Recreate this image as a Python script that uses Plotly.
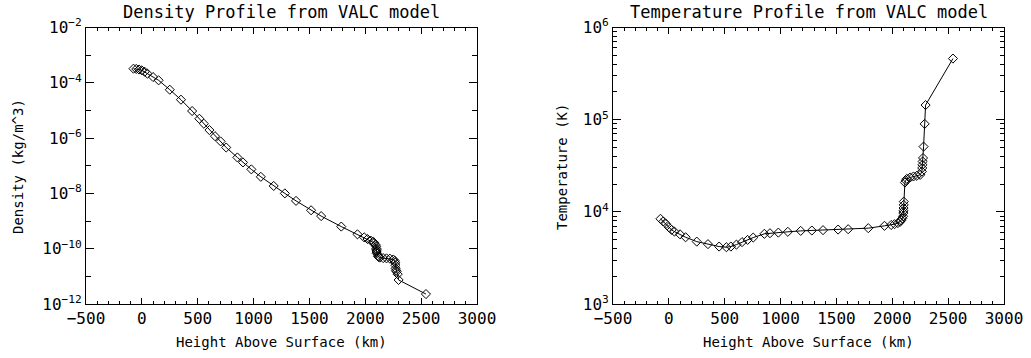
import plotly.graph_objects as go

# Height above surface (km)
heights = [-75, -50, -25, 0, 25, 50, 100, 150,
           250, 350, 450, 515, 555, 605, 655, 705, 755, 855, 905, 980,
           1065, 1180, 1280, 1380, 1515, 1605, 1785,
           1930, 1990, 2020, 2050, 2070, 2080, 2090, 2097, 2099, 2100,
           2101, 2102, 2103,
           2113, 2120, 2130, 2160, 2190, 2220, 2250, 2265, 2268, 2270,
           2272, 2275, 2280, 2290, 2298, 2543]

# Density (kg/m^3)
density = [3.24e-4, 3.16e-4, 3.02e-4, 2.82e-4, 2.51e-4, 2.14e-4, 1.62e-4, 1.23e-4,
           5.62e-5, 2.45e-5, 9.55e-6, 5.01e-6, 3.31e-6, 1.95e-6, 1.17e-6, 7.59e-7,
           4.57e-7, 2.00e-7, 1.32e-7, 7.41e-8,
           3.98e-8, 1.86e-8, 1.00e-8, 5.37e-9, 2.45e-9, 1.51e-9, 6.31e-10,
           3.31e-10, 2.57e-10, 2.24e-10, 1.95e-10, 1.78e-10, 1.62e-10, 1.41e-10,
           1.23e-10, 1.02e-10, 9.33e-11,
           8.32e-11, 7.59e-11, 6.76e-11,
           5.37e-11, 5.01e-11, 4.79e-11, 4.57e-11, 4.47e-11, 4.37e-11, 4.07e-11,
           3.63e-11, 3.09e-11, 2.51e-11,
           1.95e-11, 1.66e-11, 1.48e-11, 1.20e-11, 7.41e-12, 2.29e-12]

# Temperature (K)
temperature = [8400, 7850, 7400, 6800, 6370, 6100, 5700, 5300,
               4750, 4460, 4200, 4130, 4200, 4410, 4690, 4960, 5260, 5770, 5860, 5950,
               6070, 6210, 6270, 6330, 6420, 6480, 6650,
               7050, 7200, 7350, 7550, 7800, 8100, 8500, 8950, 9700, 10250,
               11000, 11900, 12900,
               20800, 21900, 22800, 23600, 24200, 24600, 25200, 27400, 29900, 32400,
               35200, 38400, 51000, 90000, 144000, 460000]

x_ticks = [-500, 0, 500, 1000, 1500, 2000, 2500, 3000]
x_ticktext = ["\u2212500", "0", "500", "1000", "1500", "2000", "2500", "3000"]
dens_ticks = [1e-2, 1e-4, 1e-6, 1e-8, 1e-10, 1e-12]
dens_ticktext = ["10<sup>\u22122</sup>", "10<sup>\u22124</sup>", "10<sup>\u22126</sup>",
                 "10<sup>\u22128</sup>", "10<sup>\u221210</sup>", "10<sup>\u221212</sup>"]
dens_minor = [1e-3, 1e-5, 1e-7, 1e-9, 1e-11]
temp_ticks = [1e3, 1e4, 1e5, 1e6]
temp_ticktext = ["10<sup>3</sup>", "10<sup>4</sup>", "10<sup>5</sup>", "10<sup>6</sup>"]

FONT = "DejaVu Sans Mono"
W, H = 1031, 358

fig = go.Figure()
marker = dict(symbol="diamond-open", size=7, color="black", line=dict(width=1, color="black"))
fig.add_trace(go.Scatter(x=heights, y=density, mode="lines+markers",
                         line=dict(color="black", width=1), marker=marker,
                         xaxis="x", yaxis="y", showlegend=False))
fig.add_trace(go.Scatter(x=heights, y=temperature, mode="lines+markers",
                         line=dict(color="black", width=1), marker=marker,
                         xaxis="x2", yaxis="y2", showlegend=False))

tickfont = dict(family=FONT, size=16, color="black")
ydom = [1 - 304 / H, 1 - 27.5 / H]
common_x = dict(range=[-500, 3000], tickvals=x_ticks, ticktext=x_ticktext,
                ticks="inside", ticklen=6, tickwidth=1, tickcolor="black",
                showline=True, linecolor="black", linewidth=1, mirror="allticks",
                showgrid=False, zeroline=False, automargin=False,
                tickfont=tickfont,
                minor=dict(dtick=100, ticks="inside", ticklen=3, tickcolor="black", showgrid=False))

fig.update_layout(
    width=W, height=H,
    margin=dict(l=0, r=0, t=0, b=0, autoexpand=False),
    paper_bgcolor="white", plot_bgcolor="white",
    xaxis=dict(domain=[86 / W, 477 / W], anchor="y", **common_x),
    xaxis2=dict(domain=[613 / W, 1004 / W], anchor="y2", **common_x),
    yaxis=dict(domain=ydom, anchor="x", type="log", range=[-12, -2],
               tickvals=dens_ticks, ticktext=dens_ticktext,
               ticks="inside", ticklen=8, tickcolor="black",
               showline=True, linecolor="black", linewidth=1, mirror="allticks",
               showgrid=False, zeroline=False, automargin=False,
               tickfont=tickfont,
               minor=dict(tickvals=dens_minor, ticks="inside", ticklen=5, tickcolor="black", showgrid=False)),
    yaxis2=dict(domain=ydom, anchor="x2", type="log", range=[3, 6],
                tickvals=temp_ticks, ticktext=temp_ticktext,
                ticks="inside", ticklen=8, tickcolor="black",
                showline=True, linecolor="black", linewidth=1, mirror="allticks",
                showgrid=False, zeroline=False, automargin=False,
                tickfont=tickfont,
                minor=dict(dtick="D1", ticks="inside", ticklen=4, tickcolor="black", showgrid=False)),
    font=dict(family=FONT, color="black"),
)

ann = dict(xref="paper", yref="paper", showarrow=False, xanchor="center", yanchor="middle")
tfont = dict(family=FONT, size=17, color="black")
afont = dict(family=FONT, size=14, color="black")
fig.add_annotation(x=(86 + 477) / 2 / W, y=1 - 12 / H, text="Density Profile from VALC model", font=tfont, **ann)
fig.add_annotation(x=(613 + 1004) / 2 / W, y=1 - 12 / H, text="Temperature Profile from VALC model", font=tfont, **ann)
fig.add_annotation(x=(86 + 477) / 2 / W, y=1 - 342 / H, text="Height Above Surface (km)", font=afont, **ann)
fig.add_annotation(x=(613 + 1004) / 2 / W, y=1 - 342 / H, text="Height Above Surface (km)", font=afont, **ann)
fig.add_annotation(x=18 / W, y=1 - 167 / H, text="Density (kg/m^3)", textangle=-90, font=afont, **ann)
fig.add_annotation(x=562 / W, y=1 - 167 / H, text="Temperature (K)", textangle=-90, font=afont, **ann)

fig.write_html("out.html")
